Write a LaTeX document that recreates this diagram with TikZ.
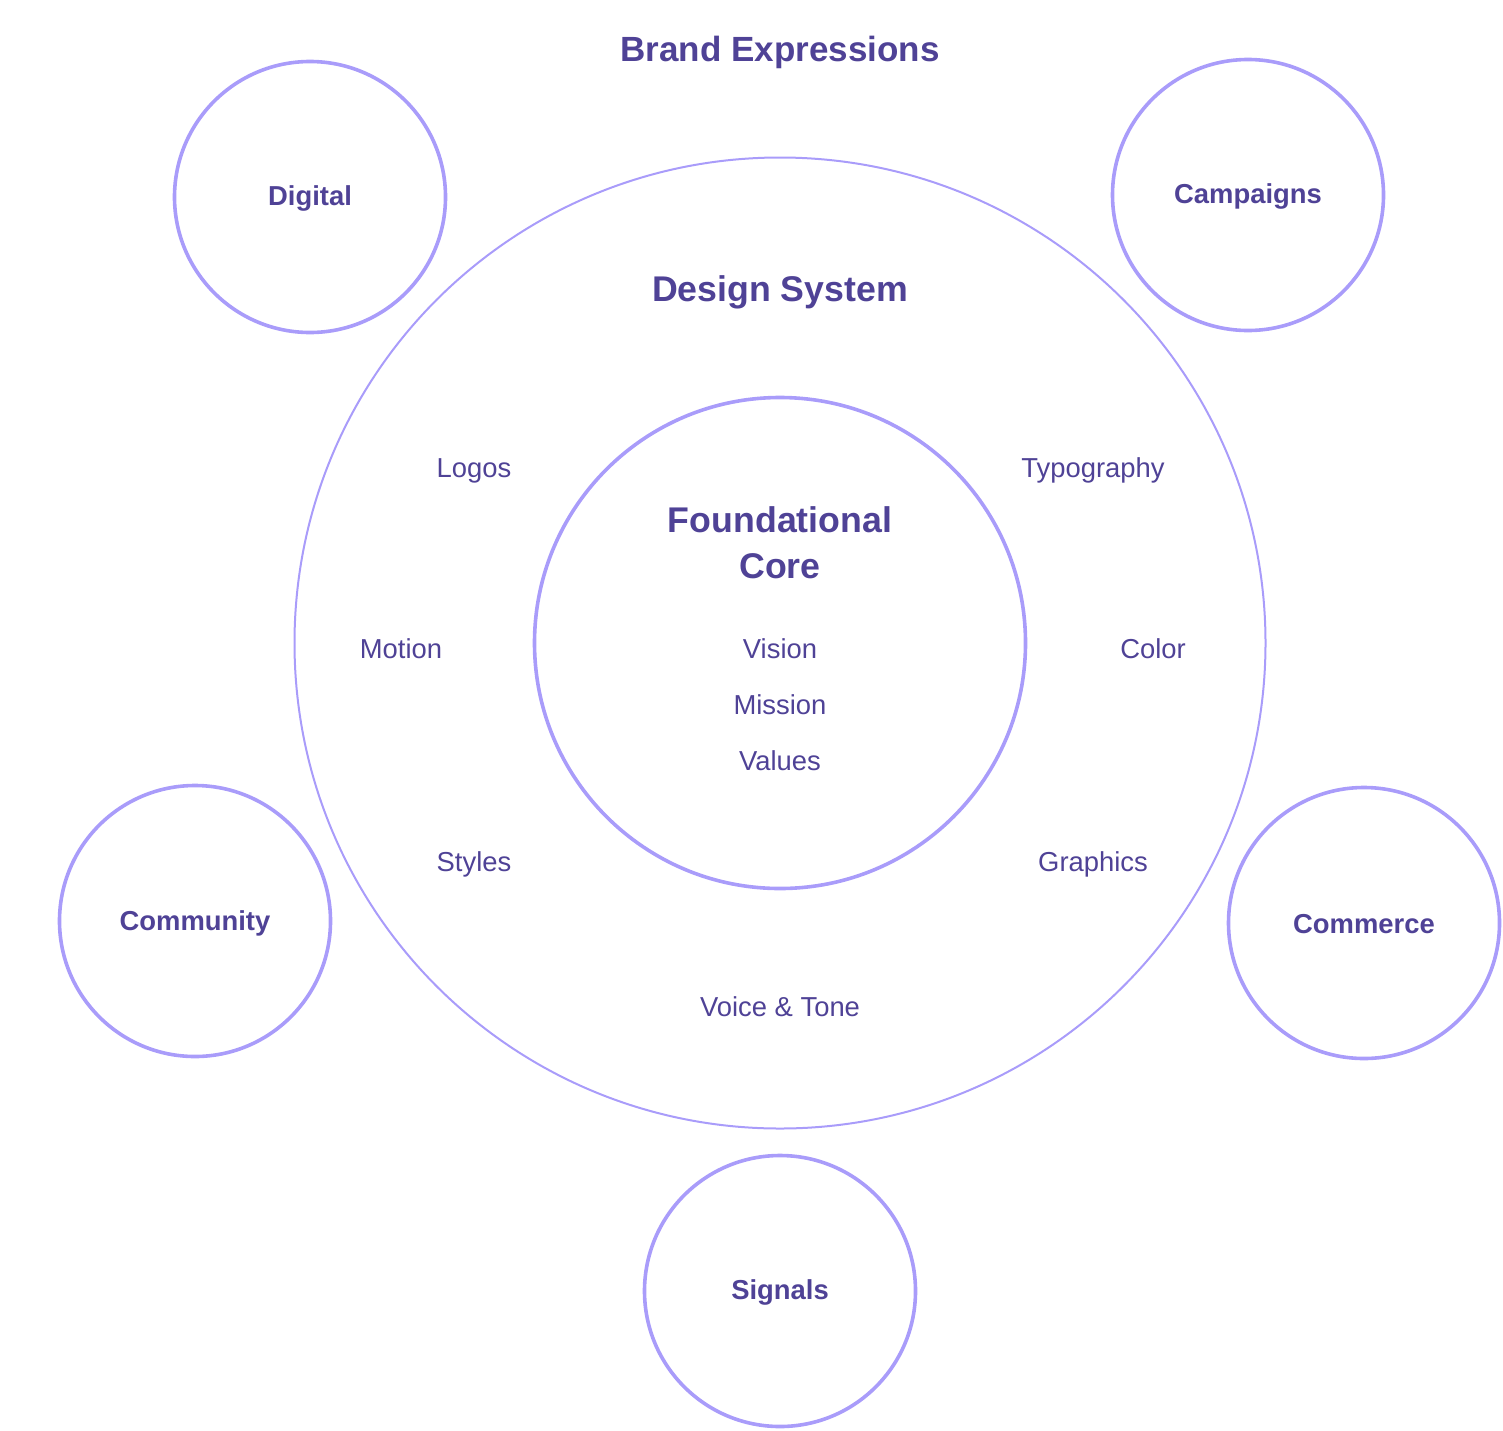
\documentclass[tikz,border=0pt]{standalone}
\usepackage{fontspec}
\setmainfont{Liberation Sans}
\definecolor{ink}{HTML}{4F4296}
\definecolor{ring}{HTML}{A99CFA}
\tikzset{
 px/.style={x=1pt,y=-1pt},
 ringthick/.style={circle,draw=ring,line width=3.6pt,inner sep=0pt,fill=none},
 ringthin/.style={circle,draw=ring,line width=2pt,inner sep=0pt,fill=none},
 item/.style={text=ink,font=\fontsize{27.4}{32}\selectfont,inner sep=0pt,anchor=center},
 petal/.style={text=ink,font=\fontsize{27.4}{32}\selectfont\bfseries,inner sep=0pt,anchor=center},
 head/.style={text=ink,font=\fontsize{35}{42}\selectfont\bfseries,inner sep=0pt,anchor=center},
 headwide/.style={text=ink,font=\fontsize{35.7}{42}\selectfont\bfseries,inner sep=0pt,anchor=center},
}
\begin{document}
\begin{tikzpicture}[px]
\useasboundingbox (0,0) rectangle (1503,1430);
\node[ringthin,minimum size=971pt] (ds) at (780,643) {};
\node[ringthick,minimum size=491pt] (core) at (780,643) {};
\node[ringthick,minimum size=271pt] (digital) at (310,197) {};
\node[ringthick,minimum size=271pt] (campaigns) at (1248,195) {};
\node[ringthick,minimum size=271pt] (community) at (195,921) {};
\node[ringthick,minimum size=271pt] (commerce) at (1364,923) {};
\node[ringthick,minimum size=271pt] (signals) at (780,1291) {};
\node[head] (t1) at (780,52) {Brand Expressions};
\node[headwide] (t2) at (780,292.5) {Design System};
\node[headwide] (t3) at (780,520) {Foundational};
\node[headwide] (t4) at (780,566) {Core};
\node[petal] (l1) at (310,198) {Digital};
\node[petal] (l2) at (1248,196) {Campaigns};
\node[petal] (l3) at (195,923) {Community};
\node[petal] (l4) at (1364,924) {Commerce};
\node[petal] (l5) at (780,1292) {Signals};
\node[item] (i1) at (474,470.5) {Logos};
\node[item] (i2) at (1093,470.5) {Typography};
\node[item] (i3) at (401,649) {Motion};
\node[item] (i4) at (1153,649) {Color};
\node[item] (i5) at (474,864.5) {Styles};
\node[item] (i6) at (1093,864.5) {Graphics};
\node[item] (i7) at (780,1007) {Voice \& Tone};
\node[item] (i8) at (780,649) {Vision};
\node[item] (i9) at (780,705) {Mission};
\node[item] (i10) at (780,761) {Values};
\end{tikzpicture}
\end{document}
